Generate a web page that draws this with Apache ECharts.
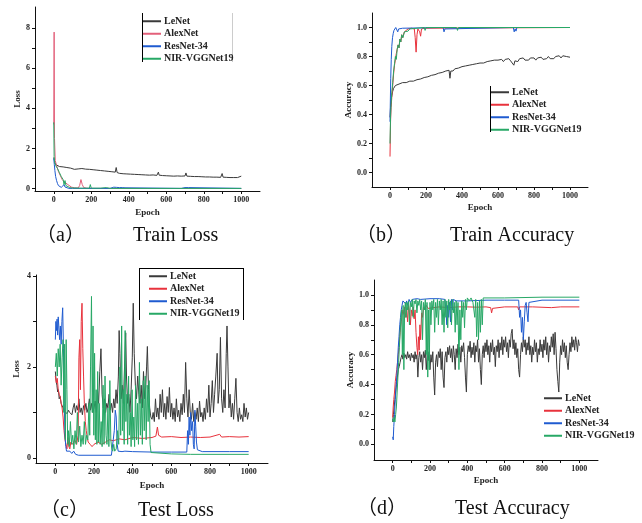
<!DOCTYPE html>
<html>
<head>
<meta charset="utf-8">
<script src="https://cdn.jsdelivr.net/npm/echarts@6/dist/echarts.min.js"></script>
<style>
  html, body { margin: 0; padding: 0; background: #fff; }
  #chart { width: 642px; height: 523px; }
</style>
</head>
<body>
<div id="chart"></div>
<script>
// series names and tick values
const names = ["LeNet", "AlexNet", "ResNet-34", "NIR-VGGNet19"];
const epochTicks = [0, 100, 200, 300, 400, 500, 600, 700, 800, 900, 1000];
const epochLabels = [0, 200, 400, 600, 800, 1000];
const trainLossTicks = [0, 1, 2, 3, 4, 5, 6, 7, 8];
const trainLossLabels = [0, 2, 4, 6, 8];
const testLossTicks = [0, 1, 2, 3, 4];
const testLossLabels = [0, 2, 4];
const accTicks = [0, 0.1, 0.2, 0.3, 0.4, 0.5, 0.6, 0.7, 0.8, 0.9, 1.0];
const accLabels = [0, 0.2, 0.4, 0.6, 0.8, 1.0];

// (a) train loss  [epoch, loss]
const aLeNet = [[0,1.55],[3,1.62],[6,1.3],[10,1.2],[15,1.15],[20,1.12],[30,1.1],[40,1.05],[50,1.08],[60,1.02],[70,1.05],[80,0.98],[90,1.02],[100,1.0],[110,0.96],[120,1.03],[130,0.98],[140,0.95],[150,1.0],[160,0.94],[170,0.97],[180,0.92],[190,0.96],[200,0.9],[210,0.94],[220,0.88],[230,0.92],[240,0.87],[250,0.9],[260,0.85],[270,0.88],[280,0.83],[290,0.86],[300,0.8],[310,0.84],[320,0.78],[328,0.82],[333,1.05],[338,0.8],[350,0.76],[360,0.8],[370,0.74],[380,0.78],[390,0.73],[400,0.76],[410,0.72],[420,0.75],[430,0.71],[440,0.74],[450,0.7],[460,0.74],[470,0.69],[480,0.73],[490,0.68],[500,0.72],[510,0.67],[520,0.71],[530,0.68],[540,0.7],[550,0.66],[558,0.82],[562,0.67],[570,0.7],[580,0.65],[590,0.69],[600,0.64],[610,0.68],[620,0.63],[630,0.67],[640,0.62],[650,0.66],[660,0.63],[670,0.67],[680,0.62],[690,0.7],[700,0.63],[705,0.78],[710,0.62],[720,0.66],[730,0.61],[740,0.65],[750,0.6],[760,0.64],[770,0.6],[780,0.63],[790,0.59],[800,0.63],[810,0.58],[820,0.62],[830,0.58],[840,0.62],[850,0.57],[860,0.61],[870,0.57],[880,0.62],[890,0.56],[898,0.75],[903,0.57],[910,0.61],[920,0.56],[930,0.6],[940,0.55],[950,0.6],[960,0.55],[970,0.59],[980,0.55],[990,0.6],[1000,0.62]];
const aAlex = [[0,3.2],[2,7.8],[4,2.5],[8,1.4],[15,1.15],[25,0.85],[35,0.65],[45,0.45],[55,0.35],[65,0.3],[75,0.2],[85,0.12],[95,0.07],[110,0.04],[130,0.03],[138,0.15],[145,0.45],[152,0.2],[160,0.05],[175,0.02],[200,0.01],[300,0.01],[500,0.005],[1000,0.005]];
const aRes = [[0,1.5],[3,1.2],[6,0.9],[10,0.6],[15,0.4],[20,0.25],[25,0.15],[30,0.1],[40,0.06],[50,0.12],[55,0.2],[60,0.08],[70,0.03],[80,0.01],[100,0.01],[300,0.01],[305,0.06],[310,0.01],[320,0.07],[325,0.01],[335,0.06],[340,0.01],[350,0.05],[355,0.01],[365,0.05],[370,0.01],[380,0.04],[385,0.01],[680,0.01],[685,0.06],[690,0.01],[700,0.05],[705,0.01],[720,0.05],[725,0.01],[1000,0.01]];
const aNir = [[0,3.3],[2,1.6],[5,1.3],[10,1.15],[20,1.0],[30,0.8],[40,0.6],[50,0.45],[55,0.2],[60,0.4],[65,0.15],[75,0.1],[85,0.05],[100,0.03],[150,0.02],[190,0.02],[195,0.2],[200,0.02],[250,0.02],[280,0.05],[300,0.01],[1000,0.01]];

// (b) train accuracy
const bLeNet = [[0,0.38],[3,0.45],[6,0.5],[10,0.53],[15,0.56],[20,0.58],[30,0.6],[40,0.59],[50,0.61],[60,0.6],[70,0.62],[80,0.61],[90,0.62],[100,0.61],[110,0.63],[120,0.62],[130,0.63],[140,0.62],[150,0.64],[160,0.63],[170,0.645],[180,0.635],[190,0.655],[200,0.645],[210,0.66],[220,0.65],[230,0.67],[240,0.66],[250,0.675],[260,0.67],[270,0.685],[280,0.675],[290,0.69],[300,0.68],[310,0.7],[320,0.69],[328,0.705],[333,0.65],[338,0.7],[345,0.71],[350,0.7],[360,0.715],[370,0.705],[380,0.72],[390,0.715],[400,0.73],[410,0.72],[420,0.735],[430,0.725],[440,0.74],[450,0.73],[460,0.745],[470,0.735],[480,0.75],[490,0.74],[500,0.755],[510,0.745],[520,0.755],[530,0.75],[540,0.765],[550,0.755],[560,0.77],[570,0.76],[580,0.775],[590,0.765],[600,0.775],[610,0.77],[620,0.78],[630,0.765],[640,0.78],[650,0.77],[660,0.785],[670,0.77],[680,0.78],[688,0.74],[694,0.77],[700,0.78],[710,0.765],[720,0.785],[730,0.775],[740,0.79],[750,0.775],[760,0.785],[770,0.775],[780,0.79],[790,0.78],[800,0.79],[810,0.775],[820,0.79],[830,0.78],[840,0.795],[850,0.78],[860,0.79],[870,0.785],[880,0.8],[890,0.785],[900,0.795],[910,0.785],[920,0.8],[930,0.79],[940,0.805],[950,0.79],[960,0.805],[970,0.795],[980,0.8],[990,0.79],[1000,0.795]];
const bAlex = [[0,0.11],[3,0.35],[6,0.45],[10,0.52],[15,0.6],[20,0.68],[25,0.74],[30,0.78],[35,0.82],[40,0.85],[45,0.88],[50,0.86],[55,0.92],[60,0.9],[65,0.95],[70,0.93],[80,0.97],[90,0.96],[100,0.99],[110,0.985],[120,0.995],[135,0.99],[140,0.93],[145,0.83],[150,0.95],[155,0.99],[165,0.97],[170,0.94],[175,0.99],[190,0.995],[200,1.0],[1000,1.0]];
const bRes = [[0,0.35],[2,0.5],[4,0.65],[7,0.78],[10,0.87],[14,0.93],[18,0.96],[22,0.98],[27,0.99],[32,1.0],[38,0.99],[43,0.97],[48,0.99],[55,1.0],[70,0.995],[80,1.0],[295,1.0],[300,0.97],[305,0.99],[310,0.98],[315,1.0],[685,1.0],[690,0.97],[695,0.99],[700,0.975],[705,1.0],[1000,1.0]];
const bNir = [[0,0.2],[3,0.38],[6,0.47],[10,0.55],[15,0.62],[20,0.7],[25,0.75],[30,0.8],[35,0.78],[40,0.85],[45,0.88],[50,0.86],[55,0.92],[60,0.9],[65,0.95],[72,0.93],[80,0.97],[90,0.98],[100,0.975],[110,0.99],[120,1.0],[190,1.0],[195,0.98],[200,1.0],[370,1.0],[375,0.98],[380,1.0],[1000,1.0]];

// (c) test loss
const cLeNet = [[0,1.9],[4,1.7],[8,1.6],[12,1.45],[16,1.5],[20,1.3],[25,1.35],[30,1.2],[35,1.15],[40,1.1],[45,1.05],[50,1.0],[56,1.02],[62,0.98],[68,1.05],[74,1.0],[80,1.02],[86,0.95],[92,1.1],[98,1.2],[104,1.0],[110,1.15],[116,1.05],[122,1.3],[128,1.0],[134,1.1],[140,0.95],[146,1.15],[152,1.05],[158,1.2],[164,1.0],[170,1.1],[176,1.3],[182,1.05],[188,1.2],[194,1.0],[200,1.1],[206,1.25],[212,1.0],[218,1.5],[224,1.2],[230,1.9],[236,2.4],[242,1.4],[248,1.1],[254,1.3],[260,1.0],[266,1.2],[272,1.1],[278,1.4],[284,1.05],[290,1.2],[296,1.0],[302,1.3],[308,1.1],[314,1.5],[320,1.2],[326,1.8],[330,2.8],[334,2.3],[340,1.3],[346,1.6],[352,1.2],[358,2.0],[364,2.75],[368,1.8],[374,1.2],[380,1.4],[386,1.0],[392,1.5],[398,2.2],[403,3.4],[408,2.3],[414,1.6],[420,1.3],[426,1.8],[432,1.4],[438,1.2],[444,1.6],[450,1.1],[456,1.9],[462,1.3],[468,1.6],[472,2.0],[476,2.45],[482,1.5],[488,1.1],[494,0.9],[500,0.85],[506,1.0],[512,0.8],[518,1.3],[524,0.9],[530,1.1],[536,0.85],[542,1.4],[548,1.0],[554,1.5],[560,0.9],[566,1.2],[572,0.85],[578,1.35],[584,1.0],[590,1.55],[596,0.9],[602,1.2],[608,0.85],[614,1.1],[620,0.8],[626,1.3],[632,0.9],[638,1.05],[644,0.8],[650,1.2],[656,0.95],[662,1.4],[668,1.0],[674,2.1],[680,1.3],[686,0.9],[692,1.5],[698,1.0],[704,0.85],[710,1.2],[716,0.8],[722,1.0],[728,0.85],[734,1.1],[740,0.8],[746,1.25],[752,0.9],[758,1.0],[764,0.8],[770,1.1],[776,0.85],[782,1.3],[788,1.0],[794,1.6],[800,0.9],[806,1.2],[812,1.7],[818,1.0],[824,1.4],[830,1.8],[837,2.3],[842,1.2],[848,1.5],[854,2.65],[860,1.3],[866,1.0],[872,1.5],[878,1.1],[884,2.3],[888,2.9],[893,2.0],[898,1.1],[904,1.4],[910,0.9],[916,1.2],[922,0.85],[928,1.3],[934,1.75],[940,1.0],[946,0.8],[952,1.1],[958,0.85],[964,0.95],[970,0.8],[976,1.2],[982,0.9],[988,1.1],[994,0.85],[1000,1.0]];
const cAlex = [[0,1.8],[5,1.65],[10,1.75],[15,1.5],[20,1.4],[25,1.35],[30,1.2],[35,1.1],[40,0.9],[45,0.6],[50,0.4],[55,0.3],[60,0.2],[65,0.45],[70,0.25],[75,0.2],[80,0.35],[90,0.3],[100,0.4],[110,0.3],[118,0.5],[122,2.2],[126,2.6],[130,1.5],[134,3.0],[138,3.4],[142,2.4],[146,1.8],[150,1.2],[155,0.8],[160,0.6],[165,0.45],[170,0.35],[180,0.3],[190,0.25],[200,0.3],[220,0.35],[240,0.3],[260,0.35],[280,0.4],[300,0.38],[330,0.42],[360,0.4],[400,0.45],[450,0.43],[500,0.45],[520,0.48],[528,0.68],[534,0.5],[550,0.46],[600,0.47],[650,0.45],[700,0.46],[750,0.45],[800,0.46],[850,0.52],[860,0.46],[900,0.47],[950,0.46],[1000,0.47]];
const cRes = [[0,2.6],[3,3.0],[6,2.8],[9,3.05],[12,2.7],[15,3.1],[18,2.9],[22,2.6],[26,2.9],[30,2.5],[34,3.0],[38,3.3],[42,2.4],[46,1.2],[50,0.5],[54,0.25],[58,0.15],[65,0.12],[75,0.15],[85,0.1],[95,0.15],[105,0.08],[120,0.06],[200,0.06],[290,0.06],[300,0.08],[305,0.6],[310,1.05],[315,0.9],[320,0.3],[325,0.15],[335,0.15],[345,0.14],[360,0.15],[400,0.14],[500,0.13],[600,0.13],[680,0.13],[684,0.6],[688,0.3],[692,0.9],[696,0.5],[700,1.0],[705,0.6],[710,0.8],[714,0.3],[718,0.2],[722,1.05],[726,0.7],[730,0.35],[735,0.18],[740,0.15],[760,0.14],[800,0.14],[900,0.14],[1000,0.14]];
const cNir = [[0,2.0],[5,2.3],[10,1.8],[15,2.4],[20,2.0],[25,2.5],[30,1.6],[35,2.2],[40,2.6],[44,1.0],[48,2.5],[52,0.4],[56,2.6],[60,1.5],[64,0.3],[68,0.6],[72,0.25],[78,0.8],[84,0.3],[90,0.5],[96,0.2],[102,0.6],[108,0.3],[114,1.0],[120,0.35],[126,0.7],[132,0.25],[138,0.5],[144,0.3],[150,0.8],[156,0.3],[162,0.5],[168,0.4],[174,1.2],[178,0.5],[182,2.0],[187,3.55],[191,1.0],[195,2.9],[199,0.5],[203,2.3],[207,0.4],[211,1.5],[215,0.3],[219,1.9],[223,0.35],[227,1.2],[232,0.3],[237,0.8],[242,0.25],[247,1.6],[252,0.3],[257,1.8],[262,0.5],[267,0.3],[272,1.1],[277,0.25],[282,1.7],[287,0.4],[292,0.2],[297,0.15],[302,0.3],[307,0.15],[315,0.2],[322,0.6],[328,0.3],[334,2.0],[338,0.5],[343,2.9],[347,0.6],[352,1.5],[356,0.3],[361,2.8],[365,0.8],[370,1.4],[374,0.3],[379,1.8],[383,0.5],[388,1.0],[392,0.25],[397,1.5],[401,0.4],[406,0.9],[410,0.25],[415,1.6],[420,0.4],[425,1.2],[430,0.3],[435,2.1],[440,0.5],[445,1.3],[450,0.3],[455,1.7],[460,0.6],[465,1.8],[470,0.4],[475,1.6],[480,0.8],[485,1.7],[490,0.3],[495,0.12],[505,0.1],[600,0.09],[700,0.08],[800,0.08],[1000,0.08]];

// (d) test accuracy
const dLeNet = [[0,0.15],[4,0.2],[8,0.25],[12,0.3],[16,0.35],[20,0.4],[25,0.45],[30,0.5],[35,0.52],[40,0.55],[45,0.58],[50,0.6],[55,0.57],[60,0.61],[65,0.58],[70,0.6],[75,0.57],[80,0.62],[85,0.58],[90,0.6],[95,0.56],[100,0.61],[105,0.58],[110,0.6],[115,0.55],[120,0.62],[125,0.57],[130,0.6],[135,0.45],[140,0.58],[145,0.62],[150,0.55],[155,0.6],[160,0.5],[165,0.62],[170,0.58],[175,0.63],[180,0.5],[185,0.6],[190,0.56],[195,0.62],[200,0.5],[205,0.6],[210,0.55],[215,0.62],[220,0.45],[225,0.33],[230,0.55],[235,0.6],[240,0.52],[245,0.62],[250,0.58],[255,0.64],[260,0.5],[265,0.62],[270,0.45],[275,0.38],[280,0.58],[285,0.62],[290,0.55],[295,0.65],[300,0.6],[305,0.66],[310,0.58],[315,0.64],[320,0.55],[325,0.66],[330,0.6],[335,0.5],[340,0.64],[345,0.58],[350,0.67],[355,0.6],[360,0.65],[365,0.55],[370,0.66],[375,0.62],[380,0.68],[385,0.58],[390,0.45],[395,0.35],[400,0.6],[405,0.66],[410,0.62],[415,0.69],[420,0.58],[425,0.65],[430,0.6],[435,0.68],[440,0.55],[445,0.66],[450,0.62],[455,0.7],[460,0.55],[465,0.64],[470,0.5],[475,0.4],[480,0.6],[485,0.66],[490,0.58],[495,0.68],[500,0.62],[505,0.7],[510,0.6],[515,0.66],[520,0.55],[525,0.68],[530,0.62],[535,0.7],[540,0.6],[545,0.65],[550,0.52],[555,0.66],[560,0.62],[565,0.7],[570,0.58],[575,0.68],[580,0.63],[585,0.72],[590,0.6],[595,0.7],[600,0.65],[605,0.72],[610,0.62],[615,0.68],[620,0.58],[625,0.7],[630,0.65],[635,0.74],[640,0.77],[645,0.64],[650,0.7],[655,0.6],[660,0.68],[665,0.58],[670,0.64],[675,0.5],[680,0.45],[685,0.6],[690,0.68],[695,0.62],[700,0.72],[705,0.65],[710,0.7],[715,0.6],[720,0.68],[725,0.63],[730,0.72],[735,0.6],[740,0.66],[745,0.55],[750,0.65],[755,0.6],[760,0.7],[765,0.62],[770,0.68],[775,0.55],[780,0.64],[785,0.6],[790,0.7],[795,0.62],[800,0.67],[805,0.58],[810,0.7],[815,0.63],[820,0.72],[825,0.6],[830,0.68],[835,0.55],[840,0.66],[845,0.62],[850,0.72],[855,0.65],[860,0.74],[865,0.6],[870,0.75],[875,0.64],[880,0.5],[885,0.42],[890,0.35],[895,0.55],[900,0.66],[905,0.6],[910,0.7],[915,0.62],[920,0.68],[925,0.58],[930,0.66],[935,0.55],[940,0.5],[945,0.6],[950,0.68],[955,0.62],[960,0.72],[965,0.65],[970,0.7],[975,0.63],[980,0.72],[985,0.68],[990,0.62],[995,0.7],[1000,0.66]];
const dAlex = [[0,0.18],[3,0.25],[6,0.3],[10,0.35],[14,0.42],[18,0.46],[22,0.5],[26,0.55],[30,0.6],[34,0.65],[38,0.72],[42,0.78],[46,0.82],[50,0.86],[55,0.9],[60,0.87],[65,0.92],[70,0.85],[75,0.9],[80,0.82],[85,0.93],[90,0.88],[95,0.8],[100,0.9],[105,0.86],[110,0.92],[115,0.84],[120,0.9],[125,0.75],[130,0.65],[134,0.6],[138,0.72],[142,0.63],[146,0.8],[150,0.7],[155,0.88],[160,0.85],[165,0.92],[170,0.9],[180,0.93],[190,0.91],[200,0.92],[250,0.92],[300,0.915],[350,0.92],[400,0.92],[450,0.918],[500,0.92],[525,0.915],[530,0.88],[535,0.91],[540,0.92],[600,0.92],[670,0.92],[675,0.9],[680,0.92],[750,0.92],[850,0.915],[860,0.925],[900,0.92],[1000,0.92]];
const dRes = [[0,0.05],[3,0.03],[6,0.12],[10,0.2],[14,0.3],[18,0.38],[22,0.45],[26,0.55],[30,0.65],[34,0.72],[38,0.8],[42,0.85],[46,0.9],[50,0.93],[55,0.96],[60,0.95],[65,0.97],[70,0.94],[75,0.96],[80,0.93],[88,0.97],[95,0.95],[105,0.97],[115,0.96],[130,0.975],[150,0.97],[200,0.975],[250,0.975],[280,0.97],[285,0.9],[290,0.8],[295,0.93],[300,0.85],[305,0.95],[310,0.82],[315,0.97],[320,0.9],[325,0.97],[340,0.96],[400,0.96],[500,0.965],[600,0.965],[675,0.965],[680,0.85],[685,0.9],[690,0.75],[695,0.85],[700,0.7],[705,0.82],[710,0.93],[715,0.95],[720,0.88],[725,0.82],[730,0.95],[740,0.96],[800,0.965],[1000,0.965]];
const dNir = [[0,0.17],[4,0.15],[8,0.18],[12,0.15],[16,0.2],[20,0.25],[24,0.35],[28,0.45],[32,0.55],[36,0.65],[40,0.75],[44,0.85],[48,0.9],[52,0.6],[56,0.93],[60,0.5],[64,0.9],[68,0.95],[72,0.85],[76,0.95],[80,0.9],[85,0.96],[90,0.8],[95,0.95],[100,0.92],[105,0.97],[110,0.85],[115,0.96],[120,0.94],[125,0.97],[130,0.88],[135,0.96],[140,0.93],[145,0.97],[150,0.9],[155,0.96],[160,0.7],[165,0.95],[170,0.9],[175,0.97],[180,0.6],[184,0.95],[188,0.45],[192,0.9],[196,0.5],[200,0.95],[205,0.8],[210,0.96],[215,0.9],[220,0.97],[225,0.75],[230,0.95],[235,0.85],[240,0.97],[245,0.8],[250,0.96],[255,0.9],[260,0.97],[265,0.8],[270,0.96],[275,0.75],[280,0.97],[285,0.85],[290,0.96],[295,0.78],[300,0.97],[305,0.9],[310,0.96],[315,0.8],[320,0.97],[325,0.88],[330,0.95],[335,0.75],[340,0.96],[345,0.8],[350,0.95],[355,0.5],[360,0.9],[365,0.7],[370,0.96],[375,0.85],[380,0.95],[385,0.78],[390,0.97],[395,0.9],[400,0.98],[410,0.96],[420,0.98],[430,0.95],[440,0.85],[445,0.97],[450,0.72],[455,0.95],[460,0.7],[465,0.96],[470,0.75],[475,0.97],[480,0.8],[485,0.98],[500,0.98],[600,0.98],[800,0.985],[1000,0.985]];

const colors = { LeNet: "#3a3a3a", AlexNet: "#e8323c", "ResNet-34": "#1f5bd0", "NIR-VGGNet19": "#27a866" };
const serif = "'Liberation Serif', 'Times New Roman', serif";

const chart = echarts.init(document.getElementById("chart"));

// panel positions (px)
const grids = [
  { left: 35, top: 7, width: 225, height: 184 },
  { left: 372, top: 13, width: 216, height: 174 },
  { left: 36, top: 275, width: 232, height: 188 },
  { left: 374, top: 280, width: 224, height: 180 }
];

function xAx(i, nameGap) {
  return {
    type: "value", gridIndex: i, min: -100, max: 1100,
    name: "Epoch", nameLocation: "middle", nameGap: nameGap,
    nameTextStyle: { fontFamily: serif, fontWeight: "bold", fontSize: 9, color: "#222" },
    axisLine: { onZero: false, lineStyle: { color: "#111", width: 1 } },
    axisTick: { customValues: epochTicks, length: 3, lineStyle: { color: "#111" } },
    axisLabel: {
      customValues: epochLabels, fontFamily: serif, fontWeight: "bold", fontSize: 8, color: "#222", margin: 5,
      formatter: v => String(v)
    },
    splitLine: { show: false }
  };
}
function yAx(i, name, min, max, ticks, labels, dec, nameGap) {
  return {
    type: "value", gridIndex: i, min: min, max: max,
    name: name, nameLocation: "middle", nameGap: nameGap,
    nameTextStyle: { fontFamily: serif, fontWeight: "bold", fontSize: 9, color: "#222" },
    axisLine: { onZero: false, lineStyle: { color: "#111", width: 1 } },
    axisTick: { customValues: ticks, length: 3, lineStyle: { color: "#111" } },
    axisLabel: {
      customValues: labels, fontFamily: serif, fontWeight: "bold", fontSize: 8, color: "#222", margin: 5,
      formatter: v => dec ? v.toFixed(1) : String(v)
    },
    splitLine: { show: false }
  };
}

const panels = [
  [aLeNet, aAlex, aRes, aNir],
  [bLeNet, bAlex, bRes, bNir],
  [cLeNet, cAlex, cRes, cNir],
  [dLeNet, dAlex, dRes, dNir]
];

const series = [];
panels.forEach((sets, p) => {
  sets.forEach((d, k) => {
    let c = colors[names[k]];
    if (p === 0 && k === 1) c = "#e3607a"; // pinker red in (a)
    series.push({
      name: names[k], type: "line", xAxisIndex: p, yAxisIndex: p,
      data: d, showSymbol: false, z: k === 0 ? 2 : 3,
      lineStyle: { color: c, width: 1 }, itemStyle: { color: c }
    });
  });
});

function legend(left, top, pinkAlex) {
  return {
    orient: "vertical", left: left, top: top, padding: 0,
    itemGap: 0, itemWidth: 18, itemHeight: 2, icon: "rect",
    textStyle: { fontFamily: serif, fontWeight: "bold", fontSize: 10, color: "#222", lineHeight: 12.5, padding: [0, 0, 0, -2] },
    data: names.map(n => ({ name: n, itemStyle: { color: (pinkAlex && n === "AlexNet") ? "#e3607a" : colors[n] } }))
  };
}

function caption(x1, x2, y, tag, text) {
  const font = "20px " + serif + ", 'Noto Sans CJK SC'";
  return [
    { type: "text", left: x1, top: y, style: { text: tag, font: font, fill: "#111" } },
    { type: "text", left: x2, top: y, style: { text: text, font: font, fill: "#111" } }
  ];
}
function vline(x, y1, y2, col) {
  return { type: "line", shape: { x1: x, y1: y1, x2: x, y2: y2 }, style: { stroke: col || "#000", lineWidth: 1 } };
}
function hline(x1, x2, y) {
  return { type: "line", shape: { x1: x1, y1: y, x2: x2, y2: y }, style: { stroke: "#000", lineWidth: 1 } };
}

chart.setOption({
  animation: false,
  backgroundColor: "#fff",
  grid: grids,
  xAxis: [xAx(0, 17), xAx(1, 16), xAx(2, 18), xAx(3, 16)],
  yAxis: [
    yAx(0, "Loss", -0.12, 9.05, trainLossTicks, trainLossLabels, false, 13),
    yAx(1, "Accuracy", -0.1, 1.1, accTicks, accLabels, true, 16),
    yAx(2, "Loss", -0.11, 4.02, testLossTicks, testLossLabels, false, 15),
    yAx(3, "Accuracy", -0.105, 1.1, accTicks, accLabels, true, 17)
  ],
  legend: [
    legend(143, 15, true),
    legend(491, 86, false),
    legend(149, 270, false),
    legend(544, 392, false)
  ],
  series: series,
  graphic: [
    vline(142.5, 13, 62),
    vline(232.5, 13, 62, "#ccc"),
    vline(490.5, 86, 132),
    vline(139.5, 268, 320),
    hline(139.5, 243.5, 268.5),
    vline(243.5, 268, 320)
  ].concat(
    caption(36, 133, 226, "（a）", "Train Loss"),
    caption(356, 450, 226, "（b）", "Train Accuracy"),
    caption(40, 138, 501, "（c）", "Test Loss"),
    caption(357, 455, 499, "（d）", "Test Accuracy")
  )
});
</script>
</body>
</html>
